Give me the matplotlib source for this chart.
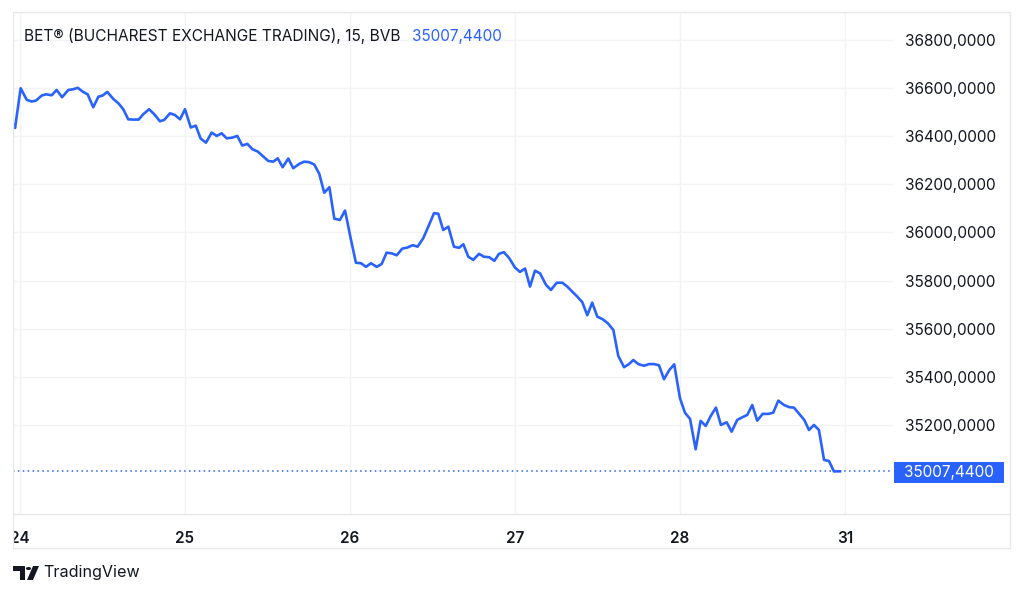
import matplotlib.pyplot as plt
from matplotlib.patches import Rectangle, Polygon, Circle

# BET index, 15 min bars; x = trading day position (0 = 24, 1 = 25, ... 4 = 28, 5 = 31)
t = [-0.036, -0.030, 0.004, 0.041, 0.071, 0.097, 0.132, 0.158, 0.192, 0.222,
     0.255, 0.293, 0.323, 0.350, 0.380, 0.410, 0.444, 0.475, 0.501, 0.529,
     0.565, 0.596, 0.626, 0.656, 0.687, 0.719, 0.747, 0.782, 0.814, 0.848,
     0.875, 0.909, 0.939, 0.970, 1.000, 1.035, 1.065, 1.095, 1.127, 1.162,
     1.192, 1.222, 1.253, 1.287, 1.317, 1.347, 1.378, 1.408, 1.441, 1.475,
     1.505, 1.535, 1.562, 1.592, 1.626, 1.656, 1.693, 1.721, 1.753, 1.784,
     1.814, 1.844, 1.875, 1.905, 1.939, 1.970, 2.004, 2.036, 2.067, 2.097,
     2.127, 2.162, 2.192, 2.222, 2.253, 2.283, 2.317, 2.347, 2.380, 2.410,
     2.444, 2.479, 2.509, 2.535, 2.565, 2.596, 2.630, 2.661, 2.687, 2.717,
     2.747, 2.782, 2.812, 2.844, 2.875, 2.903, 2.933, 2.965, 3.000, 3.030,
     3.061, 3.091, 3.121, 3.152, 3.188, 3.218, 3.253, 3.287, 3.317, 3.347,
     3.378, 3.408, 3.438, 3.468, 3.499, 3.532, 3.562, 3.596, 3.626, 3.661,
     3.691, 3.717, 3.747, 3.782, 3.812, 3.842, 3.873, 3.903, 3.935, 3.965,
     4.000, 4.030, 4.061, 4.095, 4.125, 4.156, 4.186, 4.218, 4.248, 4.283,
     4.313, 4.347, 4.378, 4.408, 4.438, 4.468, 4.501, 4.535, 4.565, 4.596,
     4.630, 4.661, 4.691, 4.723, 4.753, 4.782, 4.812, 4.842, 4.873, 4.903,
     4.933, 4.970]

pret = [36447, 36434, 36599, 36551, 36544, 36548, 36569, 36574, 36570, 36592,
        36562, 36592, 36595, 36601, 36585, 36574, 36520, 36564, 36569, 36584,
        36555, 36537, 36512, 36470, 36469, 36469, 36491, 36512, 36491, 36462,
        36468, 36495, 36488, 36470, 36512, 36436, 36444, 36390, 36373, 36415,
        36401, 36412, 36391, 36394, 36401, 36361, 36368, 36346, 36336, 36315,
        36297, 36294, 36308, 36271, 36307, 36267, 36285, 36294, 36292, 36282,
        36243, 36165, 36188, 36057, 36052, 36091, 35976, 35874, 35872, 35857,
        35872, 35857, 35869, 35916, 35913, 35905, 35933, 35937, 35947, 35941,
        35976, 36031, 36080, 36078, 36010, 36024, 35941, 35936, 35951, 35899,
        35886, 35911, 35899, 35897, 35882, 35911, 35918, 35893, 35854, 35836,
        35850, 35775, 35841, 35830, 35782, 35761, 35791, 35791, 35775, 35754,
        35733, 35710, 35656, 35708, 35650, 35639, 35623, 35595, 35487, 35440,
        35453, 35470, 35453, 35446, 35453, 35453, 35448, 35390, 35428, 35452,
        35311, 35251, 35225, 35099, 35217, 35196, 35237, 35272, 35200, 35211,
        35172, 35221, 35232, 35242, 35283, 35218, 35246, 35246, 35251, 35301,
        35283, 35274, 35272, 35246, 35221, 35179, 35200, 35179, 35055, 35050,
        35007, 35007.44]

ultimul = 35007.44
zile = [0, 1, 2, 3, 4, 5]
etichete_zile = ["24", "25", "26", "27", "28", "31"]
niveluri = [35200, 35400, 35600, 35800, 36000, 36200, 36400, 36600, 36800]

albastru = "#2962FF"
text_col = "#131722"
grila = "#F2F3F5"
chenar = "#E6E7EB"
font = "Inter"

W, H = 1024, 596
fig = plt.figure(figsize=(W / 100, H / 100), dpi=100)

def fx(px):
    return px / W

def fy(py):
    return 1 - py / H

ax = fig.add_axes([fx(13), fy(514), fx(893) - fx(13), fy(12) - fy(514)])
ax.plot(t, pret, color=albastru, lw=1.9, solid_joinstyle="round", zorder=3)
ax.axhline(ultimul, color=albastru, lw=1.1, ls=(0, (1, 2.2)), zorder=2)

ax.set_xlim(-0.0424, 5.291)
ax.set_ylim(34830, 36916)
ax.set_xticks(zile)
ax.set_xticklabels(etichete_zile)
ax.set_yticks(niveluri)
ax.set_yticklabels([f"{v:.4f}".replace(".", ",") for v in niveluri])
ax.yaxis.tick_right()
ax.grid(True, color=grila, lw=1)
ax.tick_params(length=0)
ax.tick_params(axis="y", pad=9, labelsize=11.1, labelcolor=text_col)
ax.tick_params(axis="x", pad=12, labelsize=11, labelcolor=text_col)
for lab in ax.get_yticklabels():
    lab.set_fontfamily(font)
for lab in ax.get_xticklabels():
    lab.set_fontfamily(font)
    lab.set_fontweight("semibold")
for s in ax.spines.values():
    s.set_visible(False)

# chenarul exterior si separatorul axei de timp
fig.patches.append(Rectangle((fx(13), fy(548)), fx(1010) - fx(13), fy(12) - fy(548),
                             transform=fig.transFigure, fill=False, ec=chenar, lw=1, zorder=5))
fig.add_artist(plt.Line2D([fx(13), fx(1010)], [fy(514), fy(514)], color=chenar, lw=1,
                          transform=fig.transFigure, zorder=5))
# ascunde partea din "24" care iese din chenar
fig.patches.append(Rectangle((0, fy(560)), fx(12.5), fy(0) - fy(560),
                             transform=fig.transFigure, fc="white", ec="none", zorder=6))

# eticheta pretului curent
fig.patches.append(Rectangle((fx(894), fy(483)), fx(1004) - fx(894), fy(462) - fy(483),
                             transform=fig.transFigure, fc=albastru, ec="none", zorder=7))
fig.text(fx(949), fy(472.5), f"{ultimul:.4f}".replace(".", ","), color="white",
         fontsize=11, family=font, ha="center", va="center", zorder=8)

# titlul
fig.text(fx(24), fy(36), "BET® (BUCHAREST EXCHANGE TRADING), 15, BVB",
         color=text_col, fontsize=11.1, family=font, ha="left", va="center")
fig.text(fx(412), fy(36), f"{ultimul:.4f}".replace(".", ","), color=albastru,
         fontsize=11, family=font, ha="left", va="center")

# logo TradingView
fig.patches.append(Polygon([(fx(13), fy(566)), (fx(25), fy(566)), (fx(25), fy(580)),
                            (fx(20), fy(580)), (fx(20), fy(571)), (fx(13), fy(571))],
                           closed=True, transform=fig.transFigure, fc=text_col, ec="none"))
fig.patches.append(Circle((fx(28.5), fy(568.5)), 2.6 / W, transform=fig.transFigure,
                          fc=text_col, ec="none"))
fig.patches.append(Polygon([(fx(33), fy(566)), (fx(39), fy(566)), (fx(33), fy(580)),
                            (fx(27), fy(580))],
                           closed=True, transform=fig.transFigure, fc=text_col, ec="none"))
fig.text(fx(43), fy(573), "TradingView", color=text_col, fontsize=11.6, family=font,
         ha="left", va="center")

fig.savefig("out.png", dpi=100, facecolor="white")
